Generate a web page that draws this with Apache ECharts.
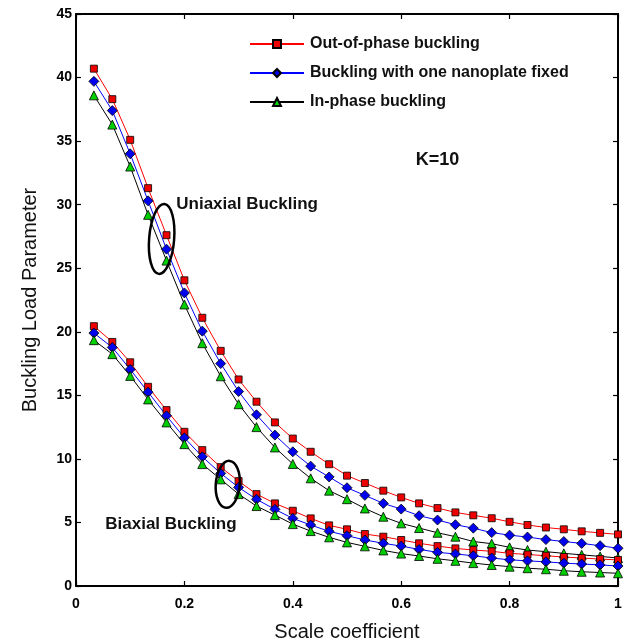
<!DOCTYPE html>
<html>
<head>
<meta charset="utf-8">
<script src="https://cdn.jsdelivr.net/npm/echarts@6/dist/echarts.min.js"></script>
<style>
  html, body { margin: 0; padding: 0; background: #fff; }
  #main { width: 627px; height: 642px; }
</style>
</head>
<body>
<div id="main"></div>
<script>
// scale coefficient values (x)
const scale = [0.033, 0.067, 0.1, 0.133, 0.167, 0.2, 0.233, 0.267, 0.3, 0.333,
  0.367, 0.4, 0.433, 0.467, 0.5, 0.533, 0.567, 0.6, 0.633, 0.667,
  0.7, 0.733, 0.767, 0.8, 0.833, 0.867, 0.9, 0.933, 0.967, 1]

// uniaxial buckling
const uniOut = [40.7, 38.3, 35.1, 31.3, 27.6, 24.05, 21.1, 18.5, 16.25, 14.5,
  12.87, 11.6, 10.56, 9.58, 8.68, 8.1, 7.5, 6.97, 6.5, 6.13,
  5.79, 5.56, 5.33, 5.05, 4.8, 4.6, 4.46, 4.3, 4.18, 4.06]
const uniFixed = [39.7, 37.4, 34.0, 30.3, 26.5, 23.06, 20.05, 17.5, 15.3, 13.47,
  11.87, 10.56, 9.43, 8.58, 7.73, 7.13, 6.5, 6.05, 5.53, 5.19,
  4.82, 4.55, 4.2, 4.0, 3.85, 3.65, 3.5, 3.35, 3.17, 2.97]
const uniIn = [38.6, 36.3, 33.0, 29.2, 25.6, 22.15, 19.1, 16.5, 14.3, 12.5,
  10.9, 9.6, 8.47, 7.5, 6.83, 6.1, 5.45, 4.93, 4.56, 4.19,
  3.88, 3.5, 3.33, 3.04, 2.83, 2.7, 2.57, 2.45, 2.33, 2.2]

// biaxial buckling
const biOut = [20.44, 19.2, 17.6, 15.67, 13.84, 12.13, 10.69, 9.35, 8.25, 7.23,
  6.5, 5.92, 5.32, 4.77, 4.46, 4.09, 3.88, 3.62, 3.36, 3.14,
  2.96, 2.83, 2.73, 2.57, 2.48, 2.38, 2.28, 2.2, 2.12, 2.05]
const biFixed = [19.9, 18.77, 17.04, 15.25, 13.39, 11.66, 10.17, 8.86, 7.76, 6.82,
  6.03, 5.32, 4.8, 4.3, 3.96, 3.62, 3.36, 3.14, 2.88, 2.65,
  2.52, 2.38, 2.2, 2.06, 1.98, 1.9, 1.8, 1.73, 1.66, 1.57]
const biIn = [19.34, 18.24, 16.53, 14.68, 12.87, 11.16, 9.59, 8.39, 7.23, 6.29,
  5.58, 4.87, 4.32, 3.83, 3.43, 3.12, 2.8, 2.55, 2.36, 2.14,
  1.98, 1.8, 1.65, 1.52, 1.4, 1.32, 1.2, 1.12, 1.06, 1.0]

const names = ['Out-of-phase buckling', 'Buckling with one nanoplate fixed', 'In-phase buckling']

const font = 'Liberation Sans, Arial, sans-serif'

function pairs (ys) {
  return ys.map((y, i) => [scale[i], y])
}

// style per curve kind
const styles = [
  { symbol: 'rect', size: 7, fill: '#ee0000', line: '#ff0000' },
  { symbol: 'diamond', size: 10, fill: '#0000ee', line: '#0000ff' },
  { symbol: 'triangle', size: 9, fill: '#00d000', line: '#000000' }
]

function makeSeries (name, ys, st) {
  return {
    name: name,
    type: 'line',
    data: pairs(ys),
    symbol: st.symbol,
    symbolSize: st.size,
    showAllSymbol: true,
    lineStyle: { color: st.line, width: 1 },
    itemStyle: { color: st.fill, borderColor: '#000', borderWidth: 0.8 },
    emphasis: { disabled: true },
    animation: false
  }
}

const axisCommon = {
  type: 'value',
  axisLine: { show: true, onZero: false, lineStyle: { color: '#000', width: 2 } },
  axisTick: { show: true, inside: true, length: 5, lineStyle: { color: '#000', width: 1.2 } },
  splitLine: { show: false }
}

let chart = echarts.init(document.getElementById('main'))
chart.setOption({
  animation: false,
  grid: { left: 76, right: 9, top: 14, bottom: 56, containLabel: false, outerBoundsMode: 'none' },
  legend: {
    data: names,
    orient: 'vertical',
    left: 249,
    top: 36,
    padding: 0,
    itemWidth: 54,
    itemHeight: 10,
    itemGap: 13,
    textStyle: { fontFamily: font, fontWeight: 'bold', fontSize: 16, color: '#111', padding: [0, 0, 0, 1] }
  },
  xAxis: [
    Object.assign({}, axisCommon, {
      min: 0, max: 1, interval: 0.2,
      name: 'Scale coefficient',
      nameLocation: 'middle',
      nameGap: 36,
      nameTextStyle: { fontFamily: font, fontSize: 20, color: '#111' },
      axisLabel: { fontFamily: font, fontWeight: 'bold', fontSize: 14, color: '#000', margin: 11 }
    }),
    Object.assign({}, axisCommon, {
      position: 'top', min: 0, max: 1, interval: 0.2,
      axisLabel: { show: false }
    })
  ],
  yAxis: [
    Object.assign({}, axisCommon, {
      min: 0, max: 45, interval: 5,
      name: 'Buckling Load Parameter',
      nameLocation: 'middle',
      nameGap: 36,
      nameTextStyle: { fontFamily: font, fontSize: 20, color: '#111' },
      axisLabel: { fontFamily: font, fontWeight: 'bold', fontSize: 14, color: '#000', margin: 4 }
    }),
    Object.assign({}, axisCommon, {
      position: 'right', min: 0, max: 45, interval: 5,
      axisLabel: { show: false }
    })
  ],
  series: [
    makeSeries(names[0], uniOut, styles[0]),
    makeSeries(names[1], uniFixed, styles[1]),
    makeSeries(names[2], uniIn, styles[2]),
    makeSeries(names[0], biOut, styles[0]),
    makeSeries(names[1], biFixed, styles[1]),
    makeSeries(names[2], biIn, styles[2])
  ]
})

// annotations placed in data coordinates
function px (x, y) {
  return chart.convertToPixel({ xAxisIndex: 0, yAxisIndex: 0 }, [x, y])
}
const e1 = px(0.158, 27.3)
const e2 = px(0.28, 8.0)
const t1 = px(0.185, 30.05)
const t2 = px(0.054, 4.88)
const t3 = px(0.627, 33.5)
const labelStyle = { fontFamily: font, fontWeight: 'bold', fontSize: 17, fill: '#111', textVerticalAlign: 'middle' }

chart.setOption({
  graphic: [
    { type: 'ellipse', x: e1[0], y: e1[1], rotation: -0.08, shape: { cx: 0, cy: 0, rx: 12.5, ry: 35 },
      style: { fill: 'none', stroke: '#000', lineWidth: 2.5 }, z: 10 },
    { type: 'ellipse', x: e2[0], y: e2[1], rotation: -0.08, shape: { cx: 0, cy: 0, rx: 12, ry: 23.5 },
      style: { fill: 'none', stroke: '#000', lineWidth: 2.5 }, z: 10 },
    { type: 'text', x: t1[0], y: t1[1], style: Object.assign({ text: 'Uniaxial Buckling' }, labelStyle), z: 10 },
    { type: 'text', x: t2[0], y: t2[1], style: Object.assign({ text: 'Biaxial Buckling' }, labelStyle), z: 10 },
    { type: 'text', x: t3[0], y: t3[1], style: Object.assign({ text: 'K=10' }, labelStyle, { fontSize: 18 }), z: 10 }
  ]
})
</script>
</body>
</html>
